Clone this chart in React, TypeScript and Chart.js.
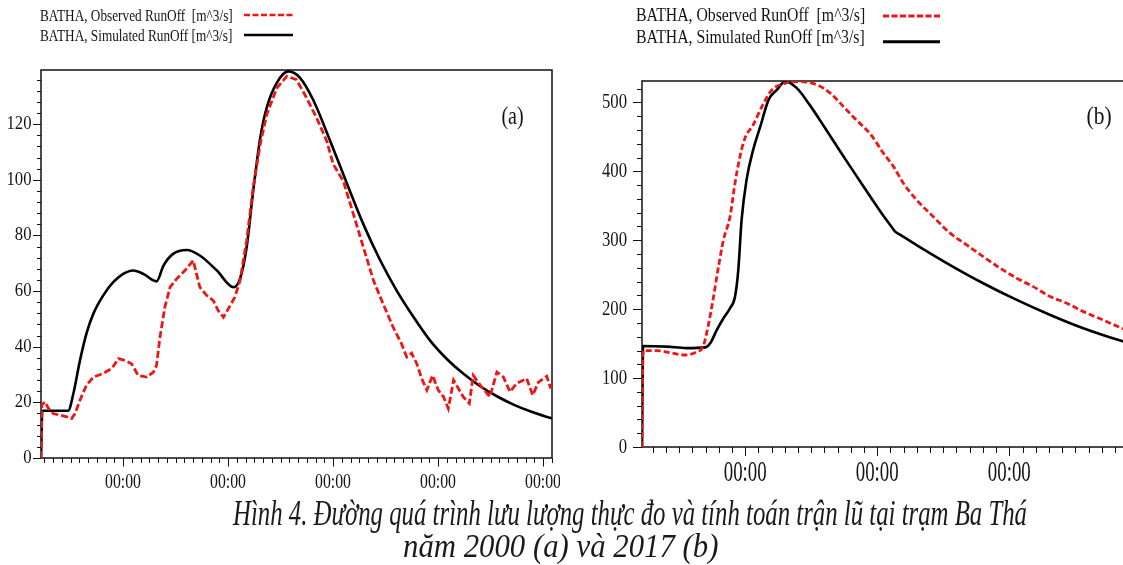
import React, { useEffect, useLayoutEffect, useRef } from "react";
import { Chart, registerables } from "chart.js";

Chart.register(...registerables);

// ---------------- data: (a) flood of 2000 ----------------
const hoursA_sim = [0, 0.3, 6.2, 7.4, 8.9, 10.4, 12.0, 14.2, 16.5, 18.8, 21.1, 23.4, 26.4, 28.0, 30.2, 33.3, 36.3, 40.2, 44.0, 45.5, 47.0, 48.5, 50.1, 51.6, 53.9, 56.5, 59.2, 62.2, 66.1, 69.9, 73.7, 77.5, 81.3, 85.1, 88.9, 92.7, 96.5, 100.4, 104.2, 108.0, 111.8, 116.5, 116.8];
const flowA_sim = [0, 17, 17, 23.2, 35, 44.8, 52, 58.4, 63.2, 66.2, 67.4, 66.2, 63.5, 69.2, 73.4, 74.8, 72.8, 67.4, 61.4, 64.5, 75.7, 96, 115, 126, 134.9, 139, 136.7, 128.8, 114, 98.8, 84, 71.2, 60.2, 50.8, 42.3, 35.7, 30.4, 25.8, 22.2, 19.2, 16.8, 14.4, 14.3];

const hoursA_obs = [
  0, 0.2, 0.9, 1.7, 2.8, 4.3, 5.9, 7.0, 7.8, 8.9,
  10.4, 12.0, 14.2, 16.2, 17.7, 19.2, 20.7, 22.2, 24.2, 25.7,
  26.4, 27.2, 28.3, 29.5, 31.0, 32.9, 34.8, 36.3, 37.9, 39.4,
  40.5, 41.7, 42.8, 44.3, 45.5, 47.0, 48.5, 50.1, 51.6, 53.9,
  56.2, 58.4, 60.7, 63.0, 65.3, 66.8, 69.1, 71.4, 73.7, 76.0,
  78.2, 80.5, 82.4, 83.6, 84.7, 85.9, 87.0, 88.2, 89.5, 90.8,
  92.0, 93.1, 94.3, 95.4, 96.5, 97.9, 98.8, 100.4, 102.6, 104.2,
  105.7, 107.2, 108.7, 111.0, 112.4, 113.7, 115.6, 116.5,
];
const flowA_obs = [
  0, 19, 20.2, 17.8, 16, 15.4, 14.8, 14.2, 16, 20.8,
  26.2, 29.1, 30.4, 32.2, 35.7, 35.1, 33.9, 29.7, 29.1, 30.9,
  33.3, 43.5, 54.2, 61.4, 64.4, 67.4, 71, 61.4, 58.4, 56.6,
  53, 50.6, 53.6, 57.8, 63.8, 78.1, 97.2, 112.8, 123.5, 133,
  137.3, 136, 129.5, 122.3, 114, 105.6, 99.6, 87.7, 75.7, 63.8,
  55.4, 47, 41.1, 36.3, 37.7, 33.9, 28.6, 24.4, 29.7, 24.4,
  22, 17.8, 28, 25, 22, 19.6, 29.7, 26.2, 22, 30.9,
  29.1, 23.8, 26.8, 28.6, 22.6, 27.3, 29.4, 25,
];

// ---------------- data: (b) flood of 2017 ----------------
const hoursB_sim = [0, 0.2, 4.5, 8.1, 11.5, 12.4, 13.6, 14.8, 16.0, 16.9, 17.5, 18.1, 19.0, 20.2, 21.5, 23.0, 24.5, 26.0, 28.1, 30.5, 33.0, 36.0, 39.0, 41.5, 43.9, 45.3, 46.0, 46.8, 49.9, 56.0, 62.0, 68.1, 74.2, 80.2, 87.5, 90.5];
const flowB_sim = [0, 146.6, 145.6, 143.5, 144.5, 150.5, 169.8, 186.8, 201.3, 218, 257, 329.5, 387.5, 431, 465, 503.6, 518, 530.5, 521, 496, 466, 429, 393, 363, 335, 320, 312.5, 308.5, 293, 264, 237.6, 213.4, 191.6, 172.3, 152.9, 146];

const hoursB_obs = [0, 0.2, 2.7, 5.1, 7.8, 10.0, 11.1, 12.0, 12.9, 13.9, 14.8, 16.0, 16.9, 17.8, 18.7, 20.2, 21.8, 23.6, 25.7, 28.7, 31.8, 34.2, 36.6, 38.5, 41.5, 43.9, 45.7, 47.5, 49.9, 52.9, 56.0, 59.0, 62.0, 65.1, 68.1, 71.1, 74.2, 77.2, 80.2, 83.8, 87.2, 90.5];
const flowB_obs = [0, 139.8, 139.8, 136.9, 133.5, 138.3, 145.6, 174.6, 213.4, 261.7, 300.4, 334.3, 382.7, 421.3, 448, 467.3, 494, 518, 526.9, 530.2, 525.4, 513.4, 494, 478, 454, 426, 406.8, 382.7, 358.5, 334.3, 310.2, 293.2, 276.2, 259.4, 244.8, 232.7, 218.2, 208.6, 196.4, 184.3, 172.3, 162];

// ---------------- labels ----------------
const seriesLabels = ["BATHA, Observed RunOff  [m^3/s]", "BATHA, Simulated RunOff [m^3/s]"];
const xTickLabel = "00:00";
const panelLabels = ["(a)", "(b)"];
const captionLines = [
  "Hình 4. Đường quá trình lưu lượng thực đo và tính toán trận lũ tại trạm Ba Thá",
  "năm 2000 (a) và 2017 (b)",
];

// axis ranges (hours since start; first midnight at 18.75 h)
const midnightHour = 18.75;
const xMaxA = 116.8;
const yMaxA = 139.5;
const xMaxB = 90.5;
const yMaxB = 531;

type TickSpec = { min: number; max: number; anchor: number; step: number; every: number };

function makeTicks(s: TickSpec) {
  const out: { value: number; major: boolean }[] = [];
  const i0 = Math.ceil((s.min - s.anchor) / s.step - 1e-9);
  const i1 = Math.floor((s.max - s.anchor) / s.step + 1e-9);
  for (let i = i0; i <= i1; i++) {
    out.push({ value: s.anchor + i * s.step, major: ((i % s.every) + s.every) % s.every === 0 });
  }
  return out;
}

function drawText(
  ctx: CanvasRenderingContext2D, text: string, x: number, y: number,
  size: number, sx: number, align: CanvasTextAlign, baseline: CanvasTextBaseline
) {
  ctx.save();
  ctx.font = `${size}px "Liberation Serif", "Times New Roman", serif`;
  ctx.textAlign = align;
  ctx.textBaseline = baseline;
  ctx.translate(x, y);
  ctx.scale(sx, 1);
  ctx.fillText(text, 0, 0);
  ctx.restore();
}

const framePlugin = {
  id: "frame",
  beforeDatasetsDraw(chart: any, _args: any, o: any) {
    const ctx: CanvasRenderingContext2D = chart.ctx;
    const { left, right, top, bottom } = chart.chartArea;
    const xs = chart.scales.x;
    const ys = chart.scales.y;
    ctx.save();
    ctx.strokeStyle = o.color;
    ctx.lineWidth = o.borderWidth;
    ctx.strokeRect(left, top, right - left, bottom - top);
    ctx.lineWidth = o.tickWidth;
    ctx.beginPath();
    for (const t of makeTicks(o.xTicks)) {
      const px = Math.round(xs.getPixelForValue(t.value)) + 0.5;
      ctx.moveTo(px, bottom);
      ctx.lineTo(px, bottom + (t.major ? o.xMajorLen : o.xMinorLen));
    }
    for (const t of makeTicks(o.yTicks)) {
      const py = Math.round(ys.getPixelForValue(t.value)) + 0.5;
      ctx.moveTo(left, py);
      ctx.lineTo(left - (t.major ? o.yMajorLen : o.yMinorLen), py);
    }
    ctx.stroke();
    ctx.fillStyle = o.textColor;
    for (const t of makeTicks(o.xTicks)) {
      if (t.major) drawText(ctx, xTickLabel, xs.getPixelForValue(t.value), bottom + o.xLabelDy, o.xFont, o.xScale, "center", "alphabetic");
    }
    for (const t of makeTicks(o.yTicks)) {
      if (t.major) drawText(ctx, String(Math.round(t.value)), left - o.yLabelGap, ys.getPixelForValue(t.value), o.yFont, o.yScale, "right", "middle");
    }
    drawText(ctx, o.panel.text, o.panel.x, o.panel.y, o.panel.font, o.panel.scale, "center", "alphabetic");
    ctx.restore();
  },
  afterDraw(chart: any, _args: any, o: any) {
    const ctx: CanvasRenderingContext2D = chart.ctx;
    const L = o.legend;
    chart.data.datasets.forEach((ds: any, i: number) => {
      const y = L.y0 + i * L.dy;
      ctx.save();
      ctx.fillStyle = o.textColor;
      drawText(ctx, ds.label, L.x, y, L.font, L.scale, "left", "alphabetic");
      ctx.strokeStyle = ds.borderColor;
      ctx.lineWidth = L.lineWidth;
      ctx.setLineDash(ds.legendDash || []);
      ctx.beginPath();
      ctx.moveTo(L.lineX0, y + L.lineDy[i]);
      ctx.lineTo(L.lineX1, y + L.lineDy[i]);
      ctx.stroke();
      ctx.restore();
    });
  },
};

function zip(xs: number[], ys: number[]) {
  return xs.map((x, i) => ({ x, y: ys[i] }));
}

function makeConfig(p: any): any {
  return {
    type: "line",
    data: {
      datasets: [
        {
          label: seriesLabels[0],
          data: zip(p.obsX, p.obsY),
          borderColor: "#f01515",
          borderWidth: 2.8,
          borderDash: p.obsDash,
          legendDash: p.legendDash,
          pointRadius: 0,
          fill: false,
          tension: 0,
          cubicInterpolationMode: p.obsSmooth ? "monotone" : "default",
        },
        {
          label: seriesLabels[1],
          data: zip(p.simX, p.simY),
          borderColor: "#000000",
          borderWidth: 2.6,
          pointRadius: 0,
          fill: false,
          cubicInterpolationMode: "monotone",
        },
      ],
    },
    options: {
      responsive: false,
      animation: false,
      devicePixelRatio: 1,
      layout: { padding: p.padding },
      scales: {
        x: { type: "linear", display: false, min: 0, max: p.xMax },
        y: { type: "linear", display: false, min: 0, max: p.yMax },
      },
      plugins: {
        legend: { display: false },
        tooltip: { enabled: false },
        frame: p.frame,
      },
    },
    plugins: [framePlugin],
  };
}

const panelA = {
  obsX: hoursA_obs, obsY: flowA_obs, simX: hoursA_sim, simY: flowA_sim,
  obsSmooth: false, obsDash: [7, 3], legendDash: [6, 2.5],
  xMax: xMaxA, yMax: yMaxA,
  padding: { left: 41, right: 8, top: 70, bottom: 42 },
  frame: {
    color: "#111", textColor: "#141414", borderWidth: 1.5, tickWidth: 1,
    xTicks: { min: 0, max: xMaxA, anchor: midnightHour, step: 2, every: 12 },
    yTicks: { min: 0, max: yMaxA, anchor: 0, step: 4, every: 5 },
    xMinorLen: 5, xMajorLen: 8.5, yMinorLen: 4, yMajorLen: 8,
    xFont: 21, xScale: 0.75, xLabelDy: 30,
    yFont: 19, yScale: 0.88, yLabelGap: 9.5,
    panel: { text: panelLabels[0], x: 512.5, y: 124, font: 25, scale: 0.8 },
    legend: { x: 40, y0: 21, dy: 20, font: 17, scale: 0.78, lineX0: 244, lineX1: 293, lineDy: [-6, -6], lineWidth: 2.6 },
  },
};

const panelB = {
  obsX: hoursB_obs, obsY: flowB_obs, simX: hoursB_sim, simY: flowB_sim,
  obsSmooth: true, obsDash: [6, 3], legendDash: [6, 2.5],
  xMax: xMaxB, yMax: yMaxB,
  padding: { left: 82, right: 10, top: 81, bottom: 53 },
  frame: {
    color: "#111", textColor: "#141414", borderWidth: 1.5, tickWidth: 1,
    xTicks: { min: 0, max: xMaxB, anchor: midnightHour, step: 2.4, every: 10 },
    yTicks: { min: 0, max: yMaxB, anchor: 0, step: 20, every: 5 },
    xMinorLen: 6, xMajorLen: 9, yMinorLen: 5, yMajorLen: 9,
    xFont: 29, xScale: 0.65, xLabelDy: 34,
    yFont: 22, yScale: 0.76, yLabelGap: 15,
    panel: { text: panelLabels[1], x: 539, y: 124, font: 25, scale: 0.86 },
    legend: { x: 76, y0: 21, dy: 22.3, font: 19, scale: 0.83, lineX0: 323, lineX1: 380, lineDy: [-5, -1.6], lineWidth: 3 },
  },
};

function ChartPanel({ panel, left, width, height }: { panel: any; left: number; width: number; height: number }) {
  const ref = useRef<HTMLCanvasElement>(null);
  useEffect(() => {
    const chart = new Chart(ref.current as HTMLCanvasElement, makeConfig(panel));
    return () => chart.destroy();
  }, [panel]);
  return (
    <canvas
      ref={ref}
      width={width}
      height={height}
      style={{ position: "absolute", left, top: 0, width, height }}
    />
  );
}

function FitLine({ text, left, baseline, width, fontSize }: { text: string; left: number; baseline: number; width: number; fontSize: number }) {
  const ref = useRef<HTMLSpanElement>(null);
  useLayoutEffect(() => {
    const el = ref.current;
    if (!el) return;
    const w = el.offsetWidth;
    if (w > 0) el.style.transform = `scaleX(${width / w})`;
  }, [text, width, fontSize]);
  return (
    <span
      ref={ref}
      style={{
        position: "absolute",
        left,
        top: baseline - 0.8375 * fontSize,
        display: "inline-block",
        whiteSpace: "nowrap",
        fontFamily: '"Liberation Serif", "Times New Roman", serif',
        fontStyle: "italic",
        fontSize,
        lineHeight: `${fontSize}px`,
        color: "#1a1a1a",
        transformOrigin: "0 0",
      }}
    >
      {text}
    </span>
  );
}

export default function App() {
  return (
    <div
      style={{
        position: "absolute",
        left: 0,
        top: 0,
        width: 1123,
        height: 565,
        overflow: "hidden",
        background: "#ffffff",
      }}
    >
      <ChartPanel panel={panelA} left={0} width={560} height={500} />
      <ChartPanel panel={panelB} left={560} width={590} height={500} />
      <FitLine text={captionLines[0]} left={233} baseline={525} width={794} fontSize={36} />
      <FitLine text={captionLines[1]} left={403} baseline={557} width={315} fontSize={34} />
    </div>
  );
}
